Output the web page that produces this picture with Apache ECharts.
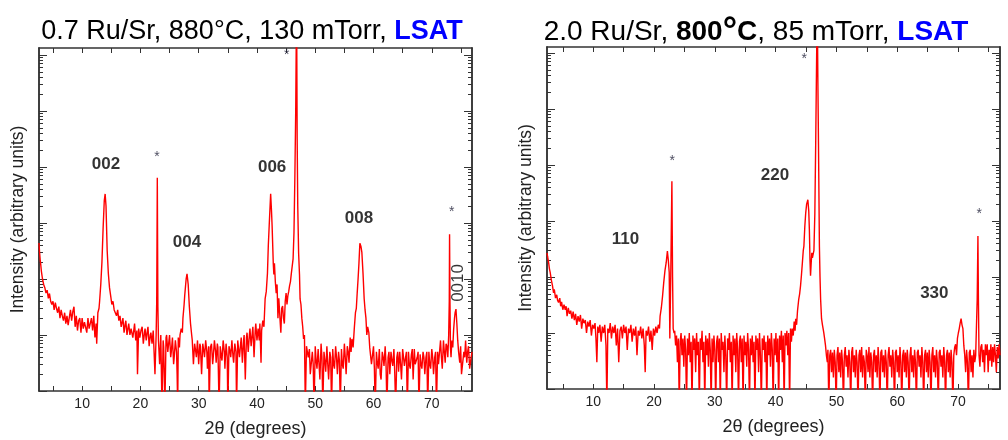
<!DOCTYPE html>
<html>
<head>
<meta charset="utf-8">
<script src="https://cdn.jsdelivr.net/npm/echarts@6/dist/echarts.min.js"></script>
<style>
  html, body { margin: 0; padding: 0; background: #fff; }
  #chart { width: 1008px; height: 440px; }
</style>
</head>
<body>
<div id="chart"></div>
<script>
// [2theta (deg), intensity (arb. units)]
const scanLeft = [
  [2.6,440],[2.7,300],[2.8,220],[2.9,180],[3.0,140],[3.2,100],[3.4,80],[3.6,70],[3.8,56],[4.0,63],[4.2,45],[4.4,55],[4.6,40],[4.8,35],[5.0,40],[5.2,28],[5.4,38],[5.6,30],[5.8,25],[6.0,32],[6.2,20],[6.4,28],[6.6,22],[6.8,18],[7.0,25],[7.2,16],[7.4,22],[7.6,15],[7.8,16],[8.0,28],[8.2,18],[8.4,26],[8.6,32],[8.8,14],[9.0,22],[9.2,12],[9.4,18],[9.6,20],[9.8,11],[10.0,20],[10.2,13],[10.4,17],[10.6,18],[10.8,11],[11.0,20],[11.2,13],[11.4,14],[11.6,20],[11.8,12],[12.0,22],[12.2,9],[12.4,16],[12.5,7],[12.7,25],[12.9,30],[13.0,40],[13.2,80],[13.4,200],[13.6,800],[13.8,2500],[13.95,3300],[14.1,2000],[14.3,320],[14.5,125],[14.7,70],[14.9,50],[15.1,35],[15.3,40],[15.5,28],[15.7,30],[15.9,22],[16.1,28],[16.3,18],[16.5,22],[16.7,14],[16.8,13],[17.0,20],[17.2,11],[17.4,16],[17.5,18],[17.7,10],[17.9,14],[18.0,16],[18.2,10],[18.4,13],[18.5,14],[18.7,9],[18.9,13],[19.0,16],[19.2,8],[19.4,12],[19.5,2],[19.7,13],[19.9,9],[20.1,12],[20.3,14],[20.5,7],[20.7,11],[20.8,13],[21.0,8],[21.2,12],[21.3,14],[21.5,6.3],[21.7,10],[21.8,11],[22.0,7],[22.2,12],[22.3,13],[22.5,2],[22.7,10],[22.8,40],[22.9,6400],[23.0,32],[23.1,8],[23.3,3],[23.5,10],[23.7,0.5],[23.9,8],[24.0,6],[24.2,0.5],[24.4,9],[24.5,10],[24.7,5],[24.8,6.3],[25.0,10],[25.2,4],[25.3,5],[25.5,9],[25.7,3],[25.8,4],[26.0,8],[26.2,5],[26.3,2],[26.4,0.5],[26.5,9],[26.7,6],[26.8,10],[27.0,13],[27.2,11],[27.3,20],[27.5,35],[27.6,50],[27.85,100],[28.0,123],[28.2,80],[28.4,32],[28.6,16],[28.8,10],[28.9,8],[29.1,3],[29.3,7],[29.5,5],[29.6,4],[29.8,8],[30.0,3],[30.2,7],[30.3,6.3],[30.5,2],[30.7,7],[30.9,5],[31.0,4],[31.2,8],[31.4,5],[31.5,2.5],[31.7,6.3],[31.8,0.5],[32.0,6],[32.2,7],[32.4,3],[32.5,4],[32.7,8],[32.9,5],[33.0,3.2],[33.2,7],[33.3,6],[33.5,0.5],[33.7,6.3],[33.9,4],[34.0,3.5],[34.2,8],[34.4,5],[34.5,2.5],[34.7,7],[34.9,4],[35.0,0.5],[35.2,6.3],[35.4,5],[35.5,4],[35.7,8],[35.9,4],[36.0,3.2],[36.2,7],[36.4,5],[36.5,0.5],[36.7,8],[36.9,5],[37.0,4],[37.2,7],[37.3,9],[37.5,3.2],[37.7,8],[37.8,10],[38.0,1.6],[38.2,9],[38.3,11],[38.5,5],[38.7,10],[38.8,13],[39.0,6.3],[39.2,11],[39.3,14],[39.5,4],[39.7,12],[39.8,16],[40.0,8],[40.2,13],[40.4,8],[40.5,16],[40.7,3.2],[40.8,12],[41.0,18],[41.2,14],[41.4,44],[41.6,60],[41.8,126],[41.95,400],[42.1,891],[42.35,3311],[42.5,1600],[42.6,891],[42.8,190],[42.9,120],[43.0,190],[43.15,90],[43.3,56],[43.45,80],[43.6,20],[43.75,45],[43.9,44],[44.0,16],[44.1,11],[44.25,30],[44.4,33],[44.55,20],[44.7,16],[44.85,40],[45.0,56],[45.15,35],[45.3,50],[45.45,60],[45.6,76],[45.75,90],[45.9,126],[46.05,170],[46.2,229],[46.35,661],[46.5,6166],[46.65,1e5],[46.8,1e7],[46.9,31623],[47.0,2000],[47.15,288],[47.3,120],[47.4,44],[47.55,35],[47.7,20],[47.85,14],[48.0,8.5],[48.15,10],[48.3,0.5],[48.5,6.3],[48.65,5],[48.8,4],
  [49.0,5.6],[49.15,2],[49.3,2],[49.5,5],[49.65,3],[49.8,0.5],[50.0,6.3],[50.15,3.5],[50.3,2.5],[50.5,5.6],[50.65,3],[50.8,1.6],[51.0,7],[51.15,4],[51.3,0.5],[51.5,5],[51.65,3.5],[51.8,2.2],[52.0,6.3],[52.15,3],[52.3,1.6],[52.5,5],[52.65,4],[52.8,0.5],[53.0,5.6],[53.15,3],[53.3,2.5],[53.5,6.3],[53.65,4],[53.8,2],[54.0,5],[54.15,3.5],[54.3,0.5],[54.5,5.6],[54.65,3],[54.8,2.5],[55.0,7],[55.15,4],[55.3,2],[55.5,6.3],[55.65,5],[55.8,3.2],[56.0,9],[56.15,5],[56.3,8.5],[56.5,6],[56.7,13],[56.9,25],[57.05,30],[57.2,56],[57.35,100],[57.5,190],[57.66,436],[57.85,380],[58.0,300],[58.2,126],[58.4,44],[58.55,28],[58.7,20],[58.85,10],[59.0,14],[59.2,11],[59.35,6],[59.5,6.3],[59.65,3],[59.8,3.2],[60.0,6.3],[60.15,2.5],[60.3,0.5],[60.5,5],[60.65,3.2],[60.8,2.5],[61.0,5.6],[61.15,2],[61.3,1.6],[61.5,5],[61.65,4],[61.8,2.8],[62.0,6.3],[62.15,3],[62.3,0.5],[62.5,4],[62.65,5],[62.8,2],[63.0,5],[63.15,3.5],[63.3,2.8],[63.5,5.6],[63.65,2],[63.8,0.5],[64.0,4],[64.15,5],[64.3,2.2],[64.5,5],[64.65,3],[64.8,1.6],[65.0,5.6],[65.15,4],[65.3,2.8],[65.5,4],[65.65,5],[65.8,0.5],[66.0,5],[66.15,3],[66.3,2.5],[66.5,4.5],[66.65,5.6],[66.8,1.6],[67.0,5.6],[67.15,3],[67.3,3.2],[67.5,4],[67.65,5],[67.8,0.5],[68.0,4.5],[68.15,3],[68.3,2.5],[68.5,5],[68.65,4],[68.8,2],[69.0,4],[69.15,5],[69.3,0.5],[69.5,5],[69.65,3],[69.8,2.5],[70.0,5.6],[70.15,4],[70.3,2],[70.5,4],[70.65,5],[70.8,0.5],[71.0,5],[71.15,3],[71.3,3.2],[71.5,8],[71.65,4],[71.8,2.5],[72.0,8],[72.15,5],[72.3,3.2],[72.45,7],[72.6,6.3],[72.75,4],[72.9,10],[73.0,40],[73.05,631],[73.12,40],[73.2,6],[73.3,4],[73.45,8],[73.6,6],[73.75,12.6],[73.9,20],[74.0,25],[74.15,29],[74.3,16],[74.45,8],[74.6,5],[74.8,3.2],[74.95,6.3],[75.1,2],[75.3,2],[75.5,5],[75.65,4],[75.8,8],[76.0,3.2],[76.15,5],[76.3,6.3],[76.5,2.5],[76.6,2.5],[76.75,4],[76.9,5]
];

const scanRight = [
  [2.4,270],[2.5,230],[2.6,200],[2.7,170],[2.8,140],[2.93,120],[3.1,90],[3.3,70],[3.48,52],[3.6,60],[3.8,42],[4.0,48],[4.15,38],[4.3,35],[4.5,42],[4.65,30],[4.8,36],[5.0,26],[5.2,32],[5.4,26],[5.55,30],[5.7,20],[5.9,28],[6.1,22],[6.3,25],[6.5,18],[6.7,24],[6.9,17],[7.1,22],[7.3,14],[7.5,20],[7.7,16],[7.9,21],[8.1,12],[8.3,18],[8.5,15],[8.7,17],[8.9,10],[9.1,16],[9.3,13],[9.5,17],[9.7,9],[9.9,14],[10.1,12],[10.3,15],[10.45,8],[10.6,3],[10.75,13],[10.9,10],[11.1,14],[11.3,7],[11.5,13],[11.7,10],[11.9,14],[12.1,6],[12.25,0.5],[12.4,12],[12.6,10],[12.8,15],[13.0,8],[13.2,13],[13.4,10],[13.6,14],[13.8,6],[14.0,12],[14.2,3],[14.4,11],[14.6,13],[14.8,8],[15.0,14],[15.2,10],[15.4,13],[15.6,5],[15.8,12],[16.0,10],[16.2,14],[16.4,7],[16.6,12],[16.8,9],[17.0,13],[17.2,4],[17.4,11],[17.6,9],[17.8,13],[18.0,8],[18.2,12],[18.4,6],[18.55,2],[18.7,11],[18.9,9],[19.1,13],[19.3,7],[19.5,11],[19.7,5],[19.9,12],[20.1,9],[20.3,13],[20.5,10],[20.7,14],[20.9,12],[21.0,20],[21.2,28],[21.4,45],[21.6,80],[21.8,130],[22.0,180],[22.2,290],[22.35,200],[22.5,120],[22.6,8],[22.75,100],[22.94,5100],[23.05,100],[23.15,12],[23.3,10],[23.4,11],
  [23.55,6],[23.7,9],[23.85,3],[24.0,8],[24.15,0.5],[24.3,7],[24.45,10],[24.6,4],[24.75,8],[24.9,2.5],[25.05,9],[25.2,5],[25.35,0.5],[25.5,8],[25.65,4],[25.8,10],[25.95,3],[26.1,7],[26.25,0.5],[26.4,9],[26.55,5],[26.7,8],[26.85,2],[27.0,10],[27.15,4],[27.3,7],[27.45,0.5],[27.6,8],[27.75,5],[27.9,11],[28.05,3],[28.2,7],[28.35,0.5],[28.5,9],[28.65,4],[28.8,8],[28.95,2.5],[29.1,10],[29.25,5],[29.4,0.5],[29.55,8],[29.7,3],[29.85,9],[30.0,5],[30.15,0.5],[30.3,7],[30.45,9],[30.6,3],[30.75,8],[30.9,0.5],[31.05,10],[31.2,5],[31.35,7],[31.5,2],[31.65,9],[31.8,4],[31.95,0.5],[32.1,8],[32.25,5],[32.4,10],[32.55,3],[32.7,7],[32.85,0.5],[33.0,9],[33.15,4],[33.3,8],[33.45,2],[33.6,10],[33.75,5],[33.9,0.5],[34.05,7],[34.2,9],[34.35,3],[34.5,8],[34.65,0.5],[34.8,9],[34.95,4],[35.1,7],[35.25,2.5],[35.4,10],[35.55,5],[35.7,0.5],[35.85,8],[36.0,4],[36.15,9],[36.3,3],[36.45,7],[36.6,0.5],[36.75,9],[36.9,5],[37.05,8],[37.2,2],[37.35,10],[37.5,4],[37.65,0.5],[37.8,8],[37.95,5],[38.1,9],[38.25,3],[38.4,7],[38.55,0.5],[38.7,9],[38.85,4],[39.0,8],[39.15,2.5],[39.3,10],[39.45,5],[39.6,0.5],[39.75,8],[39.9,4],[40.05,10],[40.2,3],[40.35,8],[40.5,0.5],[40.65,9],[40.8,5],[40.95,11],[41.1,3],[41.25,9],[41.4,0.5],[41.55,10],[41.7,6],[41.85,11],[42.0,4],[42.15,10],[42.3,0.5],[42.45,12],[42.6,7],[42.73,12],[42.9,9],[43.05,16],[43.2,11],[43.3,18],[43.45,14],[43.6,25],[43.8,40],[43.95,50],[44.1,70],[44.25,110],[44.4,180],[44.55,300],[44.65,355],[44.8,800],[44.95,1400],[45.1,2000],[45.3,2400],[45.45,1500],[45.55,700],[45.65,200],[45.74,105],[45.85,180],[45.95,270],[46.05,220],[46.2,210],[46.3,300],[46.45,1380],[46.6,30000],[46.75,1e6],[46.84,1e7],[46.95,3e5],[47.05,23000],[47.2,355],[47.3,100],[47.4,40],[47.55,18],[47.7,14],[47.9,10.5],[48.05,8],[48.2,6],[48.35,4],[48.5,3],[48.6,5],[48.75,0.5],[48.9,4],[49.05,5],[49.2,2],[49.35,4.5],[49.5,1.6],
  [49.65,5],[49.8,3],[49.95,0.5],[50.1,4],[50.25,5.6],[50.4,2],[50.55,4.5],[50.7,1.6],[50.85,5],[51.0,3],[51.15,0.5],[51.3,4],[51.45,5.6],[51.6,2.5],[51.75,4],[51.9,1.6],[52.05,5],[52.2,3],[52.35,0.5],[52.5,4.5],[52.65,5.6],[52.8,2],[52.95,4],[53.1,1.6],[53.25,5],[53.4,3],[53.55,0.5],[53.7,4],[53.85,5],[54.0,2],[54.15,5.6],[54.3,1.6],[54.45,4],[54.6,3],[54.75,0.5],[54.9,5],[55.05,4],[55.2,2],[55.35,5.6],[55.5,1.6],[55.65,4.5],[55.8,3],[55.95,0.5],[56.1,4],[56.25,5],[56.4,2],[56.55,4],[56.7,1.6],[56.85,5.6],[57.0,3],[57.15,0.5],[57.3,4.5],[57.45,5],[57.6,2],[57.75,4],[57.9,1.6],[58.05,5],[58.2,3],[58.35,0.5],[58.5,4],[58.65,5.6],[58.8,2.5],[58.95,4],[59.1,1.6],[59.25,5],[59.4,3],[59.55,0.5],[59.7,4.5],[59.85,5],[60.0,2],[60.15,4],[60.3,1.6],[60.45,5.6],[60.6,3],[60.75,0.5],[60.9,4],[61.05,5],[61.2,2],[61.35,4.5],[61.5,1.6],[61.65,5],[61.8,3],[61.95,0.5],[62.1,4],[62.25,5.6],[62.4,2],[62.55,4],[62.7,1.6],[62.85,5],[63.0,3],[63.15,0.5],[63.3,4.5],[63.45,5],[63.6,2.5],[63.75,4],[63.9,1.6],[64.05,5.6],[64.2,3],[64.35,0.5],[64.5,4],[64.65,5],[64.8,2],[64.95,4.5],[65.1,1.6],[65.25,5],[65.4,3],[65.55,0.5],[65.7,4],[65.85,5.6],[66.0,2],[66.15,4],[66.3,1.6],[66.45,5],[66.6,3],[66.75,0.5],[66.9,4.5],[67.05,5],[67.2,2.5],[67.35,4],[67.5,1.6],[67.65,5.6],[67.8,3],[67.95,0.5],[68.1,4],[68.25,5],[68.4,2],[68.55,4.5],[68.7,1.6],[68.85,5],[69.0,3],[69.15,0.5],[69.3,4],[69.45,5.6],[69.6,6.3],[69.75,4],[69.9,8],[70.05,10],[70.2,12],[70.35,15],[70.5,18],[70.65,14],[70.8,12],[70.95,6],[71.1,4],[71.25,2],[71.4,5],[71.55,3],[71.7,0.5],[71.85,4.5],[72.0,5],[72.15,2],[72.3,4],[72.45,1.6],[72.6,5],[72.75,3],[72.9,4],[73.05,4],[73.15,40],[73.27,537],[73.35,40],[73.45,4],[73.6,2.5],[73.75,5.6],[73.9,6.3],[74.05,3],[74.2,5],[74.35,2],[74.5,6.3],[74.65,4],[74.8,6.3],[74.95,2],[75.1,5],[75.25,3.2],[75.4,6.3],[75.55,2.5],[75.7,5.6],[75.85,3],[76.0,6.3],[76.15,4],[76.3,2],[76.45,5.6],[76.6,3.5],[76.75,6.3],[76.9,4]
];

// peak labels: [text, 2theta, intensity]
const peaksLeft = [
  ['002', 14.1, 11220], ['*', 22.86, 15100], ['004', 28.0, 457], ['006', 42.6, 10000],
  ['*', 45.1, 1e6], ['008', 57.5, 1230], ['*', 73.4, 1585], ['0010', 74.5, 85]
];
const peaksRight = [
  ['110', 15.3, 479], ['*', 23.0, 11750], ['220', 39.9, 6600],
  ['*', 44.7, 776000], ['330', 66.1, 52], ['*', 73.5, 1334]
];

const xTicks = [5, 10, 15, 20, 25, 30, 35, 40, 45, 50, 55, 60, 65, 70, 75];
const xLabels = [10, 20, 30, 40, 50, 60, 70];
const yMajor = [1, 10, 100, 1e3, 1e4, 1e5, 1e6];
const yMinor = [];
yMajor.forEach(d => { for (let m = 2; m <= 9; m++) if (m * d < 1.28e6) yMinor.push(m * d); });

const FONT = '"Liberation Sans", Arial, sans-serif';
const AXIS = '#333';

const chart = echarts.init(document.getElementById('chart'));

function xAxes(gridIndex, min, max) {
  const base = {
    type: 'value', gridIndex, min, max,
    splitLine: { show: false },
    axisLine: { onZero: false, lineStyle: { color: AXIS, width: 1.5 } },
    axisTick: { inside: true, length: 5, customValues: xTicks, lineStyle: { color: AXIS } }
  };
  return [
    {
      ...base, position: 'bottom',
      name: '2θ (degrees)', nameLocation: 'middle', nameGap: 29,
      nameTextStyle: { fontFamily: FONT, fontSize: 18, color: '#222' },
      axisLabel: { customValues: xLabels, fontFamily: FONT, fontSize: 14, color: '#222', margin: 6 }
    },
    { ...base, position: 'top', axisLabel: { show: false } }
  ];
}

function yAxes(gridIndex, max) {
  const base = {
    type: 'log', logBase: 10, gridIndex, min: 1, max,
    splitLine: { show: false }, axisLabel: { show: false },
    axisLine: { onZero: false, lineStyle: { color: AXIS, width: 1.5 } }
  };
  const major = { inside: true, length: 8, customValues: yMajor, lineStyle: { color: AXIS } };
  const minor = { inside: true, length: 4, customValues: yMinor, lineStyle: { color: AXIS } };
  return [
    {
      ...base, position: 'left', offset: 0, axisTick: major,
      name: 'Intensity (arbitrary units)', nameLocation: 'middle', nameGap: 12,
      nameTextStyle: { fontFamily: FONT, fontSize: 17.5, color: '#222' }
    },
    { ...base, position: 'left', offset: 0, axisTick: minor },
    { ...base, position: 'right', offset: 0, axisTick: major },
    { ...base, position: 'right', offset: 0, axisTick: minor }
  ];
}

function peakItems(list) {
  return list.map(([text, x, y]) => {
    let label;
    if (text === '*') {
      label = { fontSize: 14, color: '#1a1a33', fontFamily: FONT };
    } else if (text === '0010') {
      label = { fontSize: 17, color: '#000', fontFamily: FONT, rotate: 90 };
    } else {
      label = { fontSize: 17, fontWeight: 'bold', color: '#000', fontFamily: FONT };
    }
    return { name: text, value: [x, y], label };
  });
}

function scanSeries(data, xi, yi) {
  return {
    type: 'line', data, xAxisIndex: xi, yAxisIndex: yi,
    showSymbol: false, clip: true, silent: true,
    lineStyle: { color: '#ff0000', width: 1.4 }
  };
}

function labelSeries(list, xi, yi) {
  return {
    type: 'scatter', data: peakItems(list), xAxisIndex: xi, yAxisIndex: yi,
    symbolSize: 1, itemStyle: { color: 'rgba(0,0,0,0)' }, silent: true, clip: false,
    label: { show: true, position: 'inside', formatter: p => p.name }
  };
}

const titleRich = {
  b: { fontFamily: FONT, fontSize: 28, fontWeight: 'bold', color: '#000' },
  deg: { fontFamily: FONT, fontSize: 36, fontWeight: 'bold', color: '#000' },
  blue: { fontFamily: FONT, fontWeight: 'bold', color: '#0000ff' }
};

const option = {
  animation: false,
  backgroundColor: '#fff',
  title: [
    {
      text: '0.7 Ru/Sr, 880°C, 130 mTorr, {blue|LSAT}',
      left: 252, top: 18, textAlign: 'center', padding: 0,
      textStyle: { fontFamily: FONT, fontSize: 27, fontWeight: 'normal', color: '#000',
        rich: { ...titleRich, blue: { ...titleRich.blue, fontSize: 27 } } }
    },
    {
      text: '2.0 Ru/Sr, {b|800}{deg|°}{b|C}, 85 mTorr, {blue|LSAT}',
      left: 756, top: 14, textAlign: 'center', padding: 0,
      textStyle: { fontFamily: FONT, fontSize: 28, fontWeight: 'normal', color: '#000',
        rich: { ...titleRich, blue: { ...titleRich.blue, fontSize: 28 } } }
    }
  ],
  grid: [
    { left: 39, top: 48, width: 433, height: 343, containLabel: false, outerBoundsMode: 'none' },
    { left: 547, top: 47, width: 453, height: 342, containLabel: false, outerBoundsMode: 'none' }
  ],
  xAxis: [...xAxes(0, 2.6, 76.9), ...xAxes(1, 2.4, 76.9)],
  yAxis: [...yAxes(0, 1.33e6), ...yAxes(1, 1.28e6)],
  series: [
    scanSeries(scanLeft, 0, 0),
    labelSeries(peaksLeft, 0, 0),
    scanSeries(scanRight, 2, 4),
    labelSeries(peaksRight, 2, 4)
  ]
};

chart.setOption(option);
</script>
</body>
</html>
